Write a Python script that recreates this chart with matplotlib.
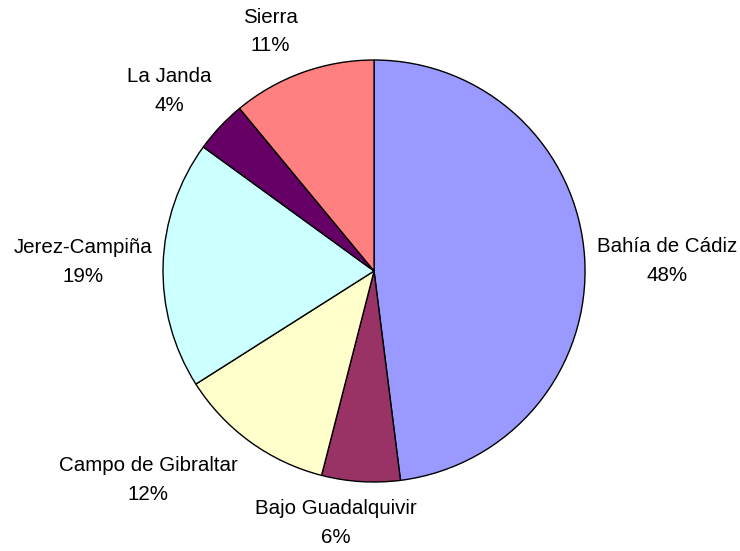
import matplotlib
matplotlib.use("Agg")
import matplotlib.pyplot as plt

# data
regions = ["Bahía de Cádiz", "Bajo Guadalquivir", "Campo de Gibraltar",
           "Jerez-Campiña", "La Janda", "Sierra"]
shares = [48, 6, 12, 19, 4, 11]
colors = ["#9999FF", "#993366", "#FFFFCC", "#CCFFFF", "#660066", "#FF8080"]

# label centres, in units of the pie radius
label_pos = [(1.389, 0.047), (-0.180, -1.194), (-1.071, -0.991),
             (-1.379, 0.043), (-0.972, 0.853), (-0.493, 1.135)]

plt.rcParams["font.family"] = ["Liberation Sans", "DejaVu Sans"]

fig = plt.figure(figsize=(7.40, 5.51), dpi=100)
ax = fig.add_axes([0.2203, 0.1252, 0.5703, 0.7659])

wedges, _ = ax.pie(shares, colors=colors, startangle=90, counterclock=False,
                   radius=1.0, wedgeprops=dict(edgecolor="black", linewidth=1.0))

total = sum(shares)
for name, val, (x, y) in zip(regions, shares, label_pos):
    ax.text(x, y, f"{name}\n{round(100 * val / total)}%", ha="center", va="center",
            fontsize=14.8, linespacing=1.62, color="black", clip_on=False)

ax.set_xlim(-1, 1)
ax.set_ylim(-1, 1)
ax.set_aspect("auto")
ax.axis("off")

fig.savefig("out.png", dpi=100)
